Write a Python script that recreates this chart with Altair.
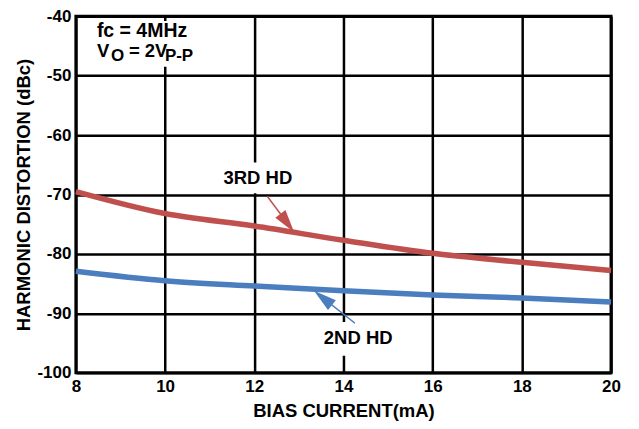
import altair as alt
import pandas as pd

# ---- data ----
bias_ma = [8, 10, 12, 14, 16, 18, 20]
hd3_dbc = [-69.5, -73.2, -75.3, -77.7, -79.9, -81.4, -82.8]
hd2_dbc = [-82.9, -84.5, -85.4, -86.2, -86.9, -87.4, -88.1]

x_ticks = [8, 10, 12, 14, 16, 18, 20]
y_ticks = [-100, -90, -80, -70, -60, -50, -40]

RED = "#C0504D"
BLUE = "#4A7EBF"
FONT = "Liberation Sans"

# annotation labels (data coordinates)
label_text = ["3RD HD", "2ND HD"]
label_x = [12.08, 14.33]
label_y = [-67.3, -94.1]

# white boxes behind labels
box_x = [11.16, 13.38, 8.2]
box_x2 = [13.02, 15.27, 10.56]
box_y = [-64.6, -91.45, -40.8]
box_y2 = [-69.8, -97.15, -48.5]

# arrows: tail -> head middle, head angle
arrow_x = [12.29, 14.258]
arrow_y = [-70.28, -91.67]
arrow_x2 = [12.74, 13.54]
arrow_y2 = [-74.80, -87.40]
arrow_angle = [143.1, 308.6]
arrow_color = [RED, BLUE]

# condition text pieces
cond_text = ["fc = 4MHz", "V", "O", "= 2V", "P-P"]
cond_x = [8.471, 8.471, 8.785, 9.189, 9.996]
cond_y = [-43.52, -46.87, -47.54, -46.87, -47.54]
cond_size = [19.5, 18.5, 17, 18.5, 17]

rows = []
for xv, a, b in zip(bias_ma, hd3_dbc, hd2_dbc):
    rows.append({"x": xv, "y": a, "s": "3RD HD"})
    rows.append({"x": xv, "y": b, "s": "2ND HD"})
df = pd.DataFrame(rows)

xscale = alt.Scale(domain=[8, 20], nice=False, zero=False)
yscale = alt.Scale(domain=[-100, -40], nice=False, zero=False)

common_axis = dict(labelFlush=False, ticks=False, domain=False,
                   grid=True, gridColor="black", gridWidth=2.5, gridOpacity=1,
                   labelFont=FONT, labelFontSize=17, labelFontWeight="bold",
                   labelColor="black", titleFont=FONT, titleFontSize=18.5,
                   titleFontWeight="bold", titleColor="black",
                   labelExpr="'' + datum.value")

base_x = alt.X("x:Q", scale=xscale, title="BIAS CURRENT(mA)",
               axis=alt.Axis(values=x_ticks, labelPadding=6, titlePadding=7, **common_axis))
base_y = alt.Y("y:Q", scale=yscale, title="HARMONIC DISTORTION (dBc)",
               axis=alt.Axis(values=y_ticks, labelPadding=5, titlePadding=3, **common_axis))

lines = alt.Chart(df).mark_line(strokeWidth=5.5, interpolate="monotone").encode(
    x=base_x, y=base_y,
    color=alt.Color("s:N", scale=alt.Scale(domain=["3RD HD", "2ND HD"], range=[RED, BLUE]),
                    legend=None),
    detail="s:N",
)

boxes = alt.Chart(pd.DataFrame({"x": box_x, "x2": box_x2, "y": box_y, "y2": box_y2})).mark_rect(
    color="white").encode(
    x=alt.X("x:Q", scale=xscale), x2="x2:Q",
    y=alt.Y("y:Q", scale=yscale), y2="y2:Q",
)

labels = alt.Chart(pd.DataFrame({"t": label_text, "x": label_x, "y": label_y})).mark_text(
    font=FONT, fontSize=18.5, fontWeight="bold", color="black", baseline="middle", align="center"
).encode(x=alt.X("x:Q", scale=xscale), y=alt.Y("y:Q", scale=yscale), text="t:N")

cond = alt.Chart(pd.DataFrame({"t": cond_text, "x": cond_x, "y": cond_y, "fs": cond_size})).mark_text(
    font=FONT, fontWeight="bold", color="black", baseline="alphabetic", align="left"
).encode(x=alt.X("x:Q", scale=xscale), y=alt.Y("y:Q", scale=yscale), text="t:N",
         size=alt.Size("fs:Q", scale=None, legend=None))

adf = pd.DataFrame({"x": arrow_x, "y": arrow_y, "x2": arrow_x2, "y2": arrow_y2,
                    "ang": arrow_angle, "c": arrow_color})
arrow_lines = alt.Chart(adf).mark_rule(strokeWidth=1.5).encode(
    x=alt.X("x:Q", scale=xscale), y=alt.Y("y:Q", scale=yscale),
    x2="x2:Q", y2="y2:Q", color=alt.Color("c:N", scale=None),
)
arrow_heads = alt.Chart(adf).mark_point(
    shape="M0,-1L0.55,1L-0.55,1Z", filled=True, size=530, opacity=1
).encode(
    x=alt.X("x2:Q", scale=xscale), y=alt.Y("y2:Q", scale=yscale),
    angle=alt.Angle("ang:Q", scale=None), color=alt.Color("c:N", scale=None),
)

chart = alt.layer(lines, boxes, arrow_lines, arrow_heads, labels, cond).properties(
    width=536, height=357,
    autosize=alt.AutoSizeParams(type="none"),
    padding={"left": 68, "top": 8, "right": 20, "bottom": 50},
    background="white",
).configure_view(stroke="black", strokeWidth=3)

chart.save("out.html", embed_options={"renderer": "svg", "actions": False})
